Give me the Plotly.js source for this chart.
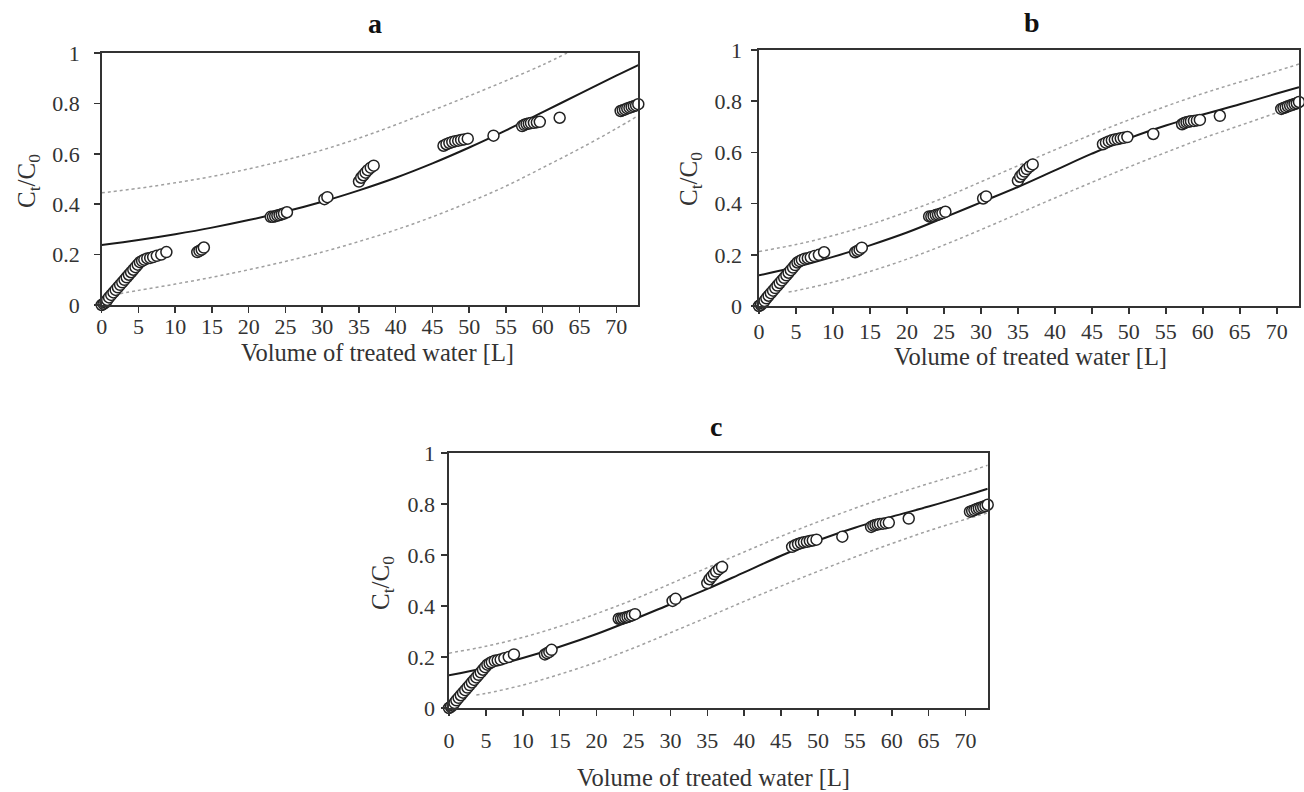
<!DOCTYPE html>
<html>
<head>
<meta charset="utf-8">
<script src="https://cdn.plot.ly/plotly-3.0.1.min.js"></script>
<style>html,body{margin:0;padding:0;background:#fff;}#chart{width:1304px;height:792px;}</style>
</head>
<body>
<div id="chart"></div>
<script>
// Observed data (same in all three panels)
const obsX = [0, 0.25, 0.5, 0.75, 1.0, 1.3, 1.6, 1.9, 2.2, 2.5, 2.8, 3.1, 3.4, 3.7, 4.0, 4.3, 4.6, 4.9, 5.2, 5.5, 5.8, 6.2, 6.6, 7.0, 7.5, 8.1, 8.8,
  13.0, 13.3, 13.6, 13.9,
  23.0, 23.3, 23.6, 23.9, 24.2, 24.5, 24.8, 25.2,
  30.3, 30.7,
  35.0, 35.3, 35.6, 35.9, 36.2, 36.6, 37.0,
  46.5, 46.9, 47.3, 47.7, 48.1, 48.5, 48.9, 49.3, 49.8,
  53.3,
  57.2, 57.5, 57.8, 58.1, 58.4, 58.8, 59.2, 59.6,
  62.3,
  70.6, 70.9, 71.2, 71.5, 71.8, 72.1, 72.4, 72.7, 73.0];
const obsY = [0, 0.005, 0.01, 0.02, 0.03, 0.04, 0.05, 0.06, 0.07, 0.08, 0.09, 0.10, 0.11, 0.12, 0.13, 0.14, 0.15, 0.16, 0.17, 0.175, 0.18, 0.185, 0.187, 0.19, 0.195, 0.2, 0.21,
  0.21, 0.215, 0.22, 0.228,
  0.35, 0.35, 0.352, 0.355, 0.357, 0.36, 0.363, 0.368,
  0.42, 0.428,
  0.49, 0.505, 0.515, 0.525, 0.535, 0.545, 0.553,
  0.632, 0.638, 0.643, 0.647, 0.65, 0.652, 0.655, 0.657, 0.66,
  0.672,
  0.71, 0.715, 0.718, 0.72, 0.722, 0.723, 0.725, 0.727,
  0.743,
  0.77, 0.773, 0.776, 0.78, 0.783, 0.786, 0.789, 0.792, 0.797];

// Panel a model and confidence bands
const aFitX = [0, 5, 10, 15, 20, 25, 30, 35, 40, 45, 50, 55, 60, 65, 70, 73];
const aFitY = [0.238, 0.258, 0.281, 0.307, 0.337, 0.371, 0.41, 0.455, 0.505, 0.562, 0.625, 0.693, 0.765, 0.838, 0.91, 0.952];
const aUpX = [0, 5, 10, 15, 20, 25, 30, 35, 40, 45, 50, 55, 60, 63.3];
const aUpY = [0.445, 0.463, 0.485, 0.51, 0.54, 0.575, 0.615, 0.662, 0.715, 0.772, 0.83, 0.89, 0.953, 1.0];
const aLoX = [2.5, 5, 10, 15, 20, 25, 30, 35, 40, 45, 50, 55, 60, 65, 70, 73];
const aLoY = [0.045, 0.058, 0.083, 0.11, 0.14, 0.173, 0.21, 0.252, 0.298, 0.35, 0.408, 0.472, 0.545, 0.62, 0.7, 0.752];

// Panel b
const bFitX = [0, 5, 10, 15, 20, 25, 30, 35, 40, 45, 50, 55, 60, 65, 70, 73];
const bFitY = [0.12, 0.152, 0.192, 0.237, 0.287, 0.345, 0.405, 0.465, 0.53, 0.595, 0.655, 0.705, 0.748, 0.788, 0.83, 0.855];
const bUpX = [0, 5, 10, 15, 20, 25, 30, 35, 40, 45, 50, 55, 60, 65, 70, 73];
const bUpY = [0.213, 0.24, 0.275, 0.318, 0.368, 0.423, 0.485, 0.548, 0.61, 0.67, 0.727, 0.78, 0.83, 0.875, 0.918, 0.945];
const bLoX = [4, 5, 10, 15, 20, 25, 30, 35, 40, 45, 50, 55, 60, 65, 70, 73];
const bLoY = [0.055, 0.06, 0.093, 0.135, 0.183, 0.238, 0.298, 0.36, 0.422, 0.483, 0.543, 0.6, 0.655, 0.705, 0.755, 0.785];

// Panel c
const cFitX = [0, 5, 10, 15, 20, 25, 30, 35, 40, 45, 50, 55, 60, 65, 70, 73];
const cFitY = [0.128, 0.158, 0.196, 0.24, 0.29, 0.347, 0.407, 0.467, 0.532, 0.597, 0.657, 0.707, 0.75, 0.79, 0.833, 0.86];
const cUpX = [0, 5, 10, 15, 20, 25, 30, 35, 40, 45, 50, 55, 60, 65, 70, 73];
const cUpY = [0.215, 0.242, 0.277, 0.32, 0.37, 0.425, 0.487, 0.55, 0.612, 0.673, 0.73, 0.783, 0.834, 0.88, 0.923, 0.952];
const cLoX = [3.7, 5, 10, 15, 20, 25, 30, 35, 40, 45, 50, 55, 60, 65, 70, 73];
const cLoY = [0.051, 0.057, 0.09, 0.132, 0.18, 0.235, 0.295, 0.356, 0.418, 0.478, 0.536, 0.592, 0.645, 0.695, 0.74, 0.765];

const panelLabels = ['a', 'b', 'c'];
const xTitle = 'Volume of treated water [L]';
const yTitle = 'C<sub>t</sub>/C<sub>0</sub>';

const FONT = 'Liberation Serif, Times New Roman, serif';
const TXT = '#333';

function band(x, y, xa, ya) {
  return {x: x, y: y, xaxis: xa, yaxis: ya, mode: 'lines', type: 'scatter',
    line: {color: '#a0a0a0', width: 1.5, dash: 'dot', shape: 'spline'}, hoverinfo: 'skip', showlegend: false};
}
function fit(x, y, xa, ya) {
  return {x: x, y: y, xaxis: xa, yaxis: ya, mode: 'lines', type: 'scatter',
    line: {color: '#1a1a1a', width: 2, shape: 'spline'}, showlegend: false};
}
function obs(xa, ya) {
  return {x: obsX, y: obsY, xaxis: xa, yaxis: ya, mode: 'markers', type: 'scatter', cliponaxis: false,
    marker: {size: 11, color: '#ffffff', line: {color: '#222', width: 1.5}}, showlegend: false};
}

const traces = [
  band(aUpX, aUpY, 'x', 'y'), band(aLoX, aLoY, 'x', 'y'), fit(aFitX, aFitY, 'x', 'y'), obs('x4', 'y4'),
  band(bUpX, bUpY, 'x2', 'y2'), band(bLoX, bLoY, 'x2', 'y2'), fit(bFitX, bFitY, 'x2', 'y2'), obs('x5', 'y5'),
  band(cUpX, cUpY, 'x3', 'y3'), band(cLoX, cLoY, 'x3', 'y3'), fit(cFitX, cFitY, 'x3', 'y3'), obs('x6', 'y6')
];

const W = 1304, H = 792;
const boxes = [
  {l: 101.7, r: 638.3, t: 53, b: 305},
  {l: 759, r: 1299, t: 50, b: 306},
  {l: 449, r: 987.7, t: 453, b: 708}
];
const X_RANGE = [0, 73], Y_RANGE = [0, 1];
const tickFont = {family: FONT, size: 22, color: TXT};

function xa(box, anchor) {
  return {domain: [box.l / W, box.r / W], range: X_RANGE, anchor: anchor, tick0: 0, dtick: 5,
    showline: true, mirror: true, linecolor: '#333', linewidth: 1.8, ticks: 'outside', ticklen: 6, tickwidth: 1.5, tickcolor: '#333',
    showgrid: false, zeroline: false, showticklabels: false};
}
function ya(box, anchor) {
  return {domain: [1 - box.b / H, 1 - box.t / H], range: Y_RANGE, anchor: anchor, tick0: 0, dtick: 0.2,
    showline: true, mirror: true, linecolor: '#333', linewidth: 1.8, ticks: 'outside', ticklen: 6, tickwidth: 1.5, tickcolor: '#333',
    showgrid: false, zeroline: false, showticklabels: false};
}
// label-only overlay axes (positioned to match the reference label gaps)
function xLab(base, box, shiftPx) {
  return {overlaying: base, anchor: 'free', position: (1 - box.b / H) + shiftPx / H, range: X_RANGE, tick0: 0, dtick: 5,
    showline: false, ticks: '', showgrid: false, zeroline: false, tickfont: tickFont};
}
function yLab(base, box, shiftPx) {
  return {overlaying: base, anchor: 'free', position: box.l / W - shiftPx / W, range: Y_RANGE, tick0: 0, dtick: 0.2,
    showline: false, ticks: '', showgrid: false, zeroline: false, tickfont: tickFont};
}

const titlePos = [{x: 375, y: 24}, {x: 1032, y: 22}, {x: 716, y: 426}];
const xTitlePos = [{x: 377, y: 352}, {x: 1030, y: 357}, {x: 714, y: 777}];
const yTitlePos = [{x: 28, y: 181}, {x: 690, y: 179}, {x: 382, y: 583}];

const annotations = [];
for (let i = 0; i < 3; i++) {
  annotations.push({text: '<b>' + panelLabels[i] + '</b>', xref: 'paper', yref: 'paper', x: titlePos[i].x / W, y: 1 - titlePos[i].y / H,
    xanchor: 'center', yanchor: 'middle', showarrow: false, font: {family: FONT, size: 28, color: '#111'}});
  annotations.push({text: xTitle, xref: 'paper', yref: 'paper', x: xTitlePos[i].x / W, y: 1 - xTitlePos[i].y / H,
    xanchor: 'center', yanchor: 'middle', showarrow: false, font: {family: FONT, size: 24.5, color: TXT}});
  annotations.push({text: yTitle, xref: 'paper', yref: 'paper', x: yTitlePos[i].x / W, y: 1 - yTitlePos[i].y / H,
    xanchor: 'center', yanchor: 'middle', textangle: -90, showarrow: false, font: {family: FONT, size: 25, color: TXT}});
}

const layout = {
  width: W, height: H, margin: {l: 0, r: 0, t: 0, b: 0},
  paper_bgcolor: '#fff', plot_bgcolor: '#fff', showlegend: false,
  xaxis: xa(boxes[0], 'y'), yaxis: ya(boxes[0], 'x'),
  xaxis2: xa(boxes[1], 'y2'), yaxis2: ya(boxes[1], 'x2'),
  xaxis3: xa(boxes[2], 'y3'), yaxis3: ya(boxes[2], 'x3'),
  xaxis4: xLab('x', boxes[0], -6), yaxis4: yLab('y', boxes[0], 22),
  xaxis5: xLab('x2', boxes[1], -10), yaxis5: yLab('y2', boxes[1], 17),
  xaxis6: xLab('x3', boxes[2], -17), yaxis6: yLab('y3', boxes[2], 14),
  annotations: annotations
};

Plotly.newPlot('chart', traces, layout, {displayModeBar: false, staticPlot: true});
</script>
</body>
</html>
